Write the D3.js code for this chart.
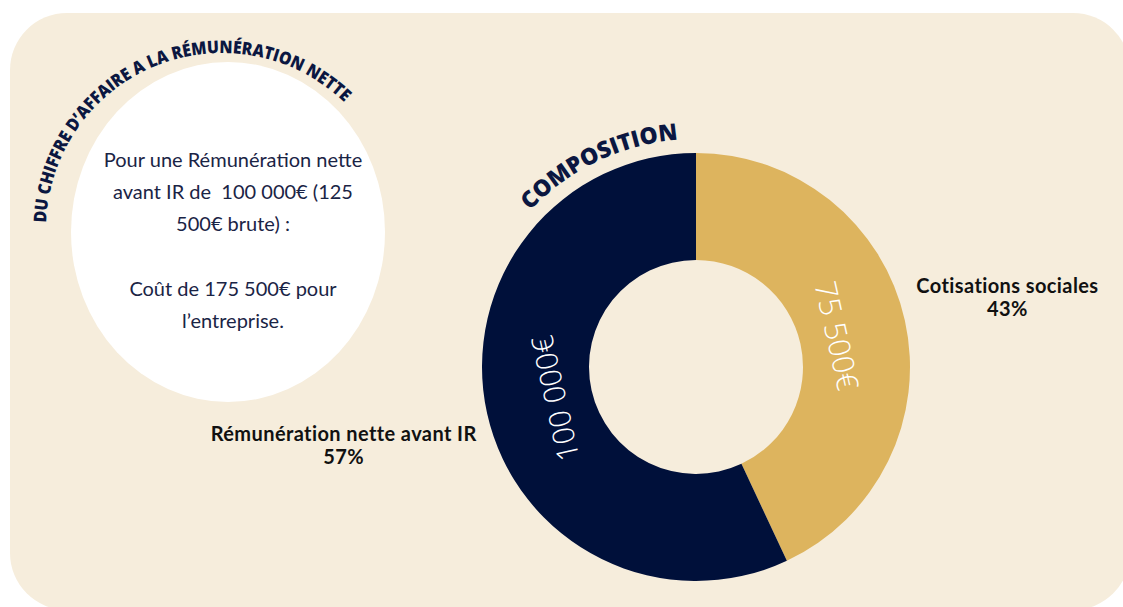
<!DOCTYPE html>
<html><head><meta charset="utf-8">
<script src="https://cdn.jsdelivr.net/npm/d3@7"></script>
<style>html,body{margin:0;padding:0;background:#fff;overflow:hidden}</style>
</head><body>
<svg id="c" width="1123" height="607"></svg>
<script>
// ---- data ----
const categories = ["Cotisations sociales", "Rémunération nette avant IR"];
const values = [75500, 100000];
const colors = ["#DDB45E", "#00103A"];
const titleText = "DU CHIFFRE D’AFFAIRE A LA RÉMUNÉRATION NETTE";
const chartTitle = "COMPOSITION";
const noteLines = ["Pour une Rémunération nette", "avant IR de  100 000€ (125", "500€ brute) :", "", "Coût de 175 500€ pour", "l’entreprise."];

// ---- layout ----
const svg = d3.select("#c");
const navy = "#0B1741";
const fr = d3.formatLocale({decimal: ",", thousands: " ", grouping: [3], currency: ["", "€"]});
const money = fr.format("$,.0f");
const pct = d3.format(".0%");
const total = d3.sum(values);

svg.append("rect").attr("x", 10).attr("y", 13).attr("width", 1120).attr("height", 597)
  .attr("rx", 57).attr("fill", "#F6EDDC");

// note bubble
const note = {cx: 228, cy: 232, rx: 157, ry: 170};
svg.append("ellipse").attr("cx", note.cx).attr("cy", note.cy).attr("rx", note.rx).attr("ry", note.ry).attr("fill", "#fff");
svg.append("g").selectAll("text").data(noteLines).join("text")
  .attr("x", 233).attr("y", (d, i) => 167 + i * 32.2)
  .attr("text-anchor", "middle").style("white-space", "pre")
  .attr("font-family", "Lato, sans-serif").attr("font-size", 20).attr("fill", "#1A2445")
  .text(d => d);

// curved text, one glyph at a time
const rad = d => d * Math.PI / 180;
function curved(cx, cy, r, a0, a1, txt, size) {
  const font = {family: "'Open Sans', sans-serif", weight: 800};
  const probe = svg.append("text").attr("font-family", font.family).attr("font-weight", font.weight)
    .attr("font-size", size).style("white-space", "pre");
  const chars = Array.from(txt);
  const widths = chars.map(c => probe.text(c).node().getComputedTextLength());
  probe.remove();
  const natural = d3.sum(widths);
  const L = r * rad(a1 - a0);
  const s = L / natural;
  const gs = Math.min(1, s);
  let acc = 0;
  const pos = widths.map(w => { const c = acc + w / 2; acc += w; return c * s; });
  const g = svg.append("g");
  g.selectAll("text").data(chars).join("text")
    .attr("transform", (c, i) => {
      const th = rad(a0) + pos[i] / r;
      return `translate(${cx + r * Math.cos(th)},${cy + r * Math.sin(th)}) rotate(${th * 180 / Math.PI + 90}) scale(${gs},1)`;
    })
    .attr("text-anchor", "middle")
    .attr("font-family", font.family).attr("font-weight", font.weight)
    .attr("font-size", size).attr("fill", navy)
    .text(c => c);
}
curved(222, 229, 176, 182, 314, titleText, 17.5);

// donut
const cx = 696, cy = 367, R = 214, r0 = 107;
curved(cx, cy, 228, 223.3, 265.5, chartTitle, 23);

const pie = d3.pie().sort(null).value(d => d);
const arcs = pie(values);
const arc = d3.arc().innerRadius(r0).outerRadius(R);
const g = svg.append("g").attr("transform", `translate(${cx},${cy})`);
g.selectAll("path").data(arcs).join("path").attr("d", arc).attr("fill", (d, i) => colors[i]);

const mid = d => (d.startAngle + d.endAngle) / 2;
const labelR = 145;
g.selectAll("text.val").data(arcs).join("text").attr("class", "val")
  .attr("transform", d => `translate(${Math.sin(mid(d)) * labelR},${-Math.cos(mid(d)) * labelR}) rotate(${mid(d) * 180 / Math.PI})`)
  .attr("text-anchor", "middle").attr("dominant-baseline", "central")
  .attr("font-family", "'Open Sans', sans-serif").attr("font-weight", 300).attr("font-size", 30)
  .attr("fill", "#fff").text(d => money(d.data));

// outer labels
const lab = g.selectAll("g.lab").data(arcs).join("g").attr("class", "lab");
lab.each(function(d, i) {
  const gg = d3.select(this);
  const common = s => s.attr("text-anchor", "middle").attr("font-family", "Lato, sans-serif")
    .attr("font-weight", 700).attr("font-size", 20).attr("letter-spacing", 0.4).attr("fill", "#111");
  const t1 = gg.append("text").attr("y", -5).call(common).text(categories[i]);
  gg.append("text").attr("y", 18).call(common).text(pct(d.data / total));
  const w = t1.node().getComputedTextLength();
  const rr = 228 + w / 2;
  gg.attr("transform", `translate(${Math.sin(mid(d)) * rr},${-Math.cos(mid(d)) * rr})`);
});
</script>
</body></html>
